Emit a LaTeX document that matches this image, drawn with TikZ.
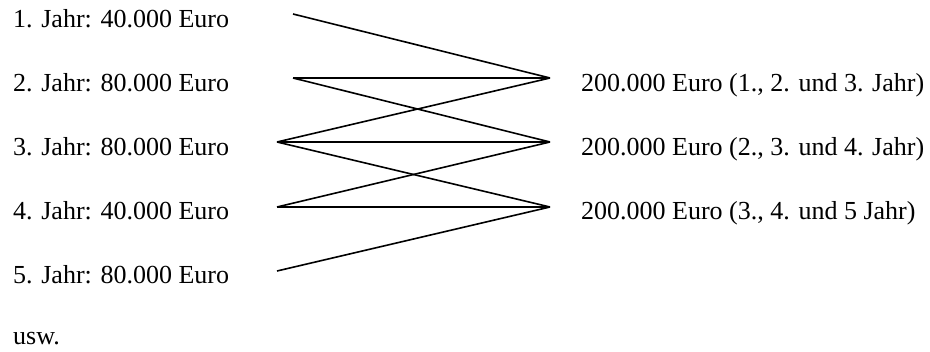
\documentclass[tikz,border=0pt]{standalone}
\usepackage{fontspec}
\setmainfont{Liberation Serif}
\begin{document}
\begin{tikzpicture}[x=1pt,y=-1pt,
  lbl/.style={anchor=base west,inner sep=0pt,font=\fontsize{26}{30}\selectfont},
  conn/.style={line width=1.6pt,line join=miter}]
\useasboundingbox (0,0) rectangle (930,352);
\node[lbl] (t1) at (13,28) {1. Jahr: 40.000 Euro};
\node[lbl] (t2) at (13,92) {2. Jahr: 80.000 Euro};
\node[lbl] (t3) at (13,156) {3. Jahr: 80.000 Euro};
\node[lbl] (t4) at (13,220) {4. Jahr: 40.000 Euro};
\node[lbl] (t5) at (13,284) {5. Jahr: 80.000 Euro};
\node[lbl] (t6) at (13,345) {usw.};
\node[lbl] (s1) at (581,92) {200.000 Euro (1., 2. und 3. Jahr)};
\node[lbl] (s2) at (581,156) {200.000 Euro (2., 3. und 4. Jahr)};
\node[lbl] (s3) at (581,220) {200.000 Euro (3., 4. und 5 Jahr)};
\coordinate (l1) at (293,14);
\coordinate (l2) at (293,78);
\coordinate (l3) at (277,142);
\coordinate (l4) at (277,207);
\coordinate (l5) at (277,271);
\coordinate (r1) at (550,78);
\coordinate (r2) at (550,142);
\coordinate (r3) at (550,207);
\draw[conn] (l1) -- (r1);
\draw[conn] (l2) -- (r1);
\draw[conn] (l2) -- (r2);
\draw[conn] (l3) -- (r1);
\draw[conn] (l3) -- (r2);
\draw[conn] (l3) -- (r3);
\draw[conn] (l4) -- (r2);
\draw[conn] (l4) -- (r3);
\draw[conn] (l5) -- (r3);
\end{tikzpicture}
\end{document}
